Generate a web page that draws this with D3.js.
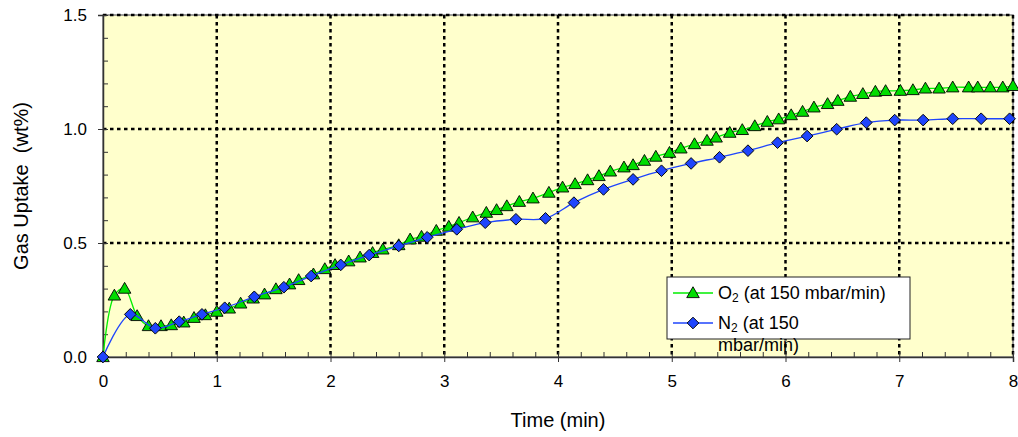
<!DOCTYPE html>
<html>
<head>
<meta charset="utf-8">
<script src="https://cdn.jsdelivr.net/npm/d3@7"></script>
<style>
    body { margin: 0; background: #fff; }
    text { font-family: "Liberation Sans", Arial, sans-serif; fill: #000; white-space: pre; }
</style>
</head>
<body>
<div id="chart"></div>
<script>
// O2 series (time in min, uptake in wt%)
const o2Time = [0, 0.10, 0.19, 0.30, 0.40, 0.51, 0.60, 0.71, 0.80, 0.90, 1.00, 1.11, 1.21, 1.32, 1.42, 1.52, 1.64, 1.72, 1.85, 1.95,
    2.04, 2.16, 2.26, 2.37, 2.46, 2.60, 2.70, 2.80, 2.93, 3.04, 3.13, 3.25, 3.37, 3.46, 3.55, 3.66, 3.78, 3.92,
    4.04, 4.15, 4.26, 4.36, 4.46, 4.58, 4.66, 4.76, 4.86, 4.98, 5.08, 5.20, 5.31, 5.39, 5.51, 5.62, 5.73, 5.84, 5.94,
    6.05, 6.15, 6.25, 6.37, 6.46, 6.57, 6.68, 6.79, 6.88, 7.01, 7.12, 7.23, 7.35, 7.47, 7.61, 7.69, 7.80, 7.91, 8.00];
const o2Value = [0, 0.27, 0.30, 0.18, 0.136, 0.136, 0.14, 0.152, 0.172, 0.184, 0.199, 0.213, 0.235, 0.257, 0.275, 0.298, 0.319, 0.338, 0.363, 0.386,
    0.404, 0.42, 0.437, 0.457, 0.472, 0.491, 0.516, 0.528, 0.554, 0.572, 0.589, 0.613, 0.633, 0.645, 0.662, 0.681, 0.696, 0.721,
    0.744, 0.759, 0.776, 0.794, 0.814, 0.832, 0.842, 0.861, 0.879, 0.896, 0.915, 0.934, 0.949, 0.963, 0.984, 0.996, 1.013, 1.032, 1.043,
    1.061, 1.076, 1.095, 1.11, 1.124, 1.142, 1.154, 1.164, 1.167, 1.168, 1.171, 1.178, 1.178, 1.183, 1.183, 1.183, 1.183, 1.183, 1.189];

// N2 series
const n2Time = [0, 0.24, 0.46, 0.67, 0.87, 1.07, 1.33, 1.59, 1.83, 2.09, 2.34, 2.60, 2.85, 3.11, 3.36, 3.63, 3.89,
    4.14, 4.40, 4.66, 4.91, 5.17, 5.42, 5.67, 5.93, 6.19, 6.45, 6.71, 6.96, 7.21, 7.47, 7.72, 7.97];
const n2Value = [0, 0.187, 0.126, 0.155, 0.187, 0.216, 0.264, 0.306, 0.355, 0.404, 0.447, 0.487, 0.525, 0.56, 0.589, 0.604, 0.608,
    0.677, 0.735, 0.779, 0.817, 0.849, 0.876, 0.905, 0.94, 0.969, 0.999, 1.028, 1.039, 1.039, 1.045, 1.045, 1.045];

const xTicks = [0, 1, 2, 3, 4, 5, 6, 7, 8];
const yTicks = [0, 0.5, 1.0, 1.5];
const seriesNames = ["O", "N"];

document.addEventListener("DOMContentLoaded", function() {
    const width = 1018, height = 437;
    const margin = { top: 15, right: 5, bottom: 80, left: 103 };
    const innerW = 1013 - margin.left;
    const innerH = 357 - margin.top;

    const svg = d3.select("#chart").append("svg")
        .attr("width", width)
        .attr("height", height);

    const g = svg.append("g")
        .attr("transform", `translate(${margin.left},${margin.top})`);

    const x = d3.scaleLinear().domain([0, 8]).range([0, innerW]);
    const y = d3.scaleLinear().domain([0, 1.5]).range([innerH, 0]);

    // plot area
    g.append("rect")
        .attr("width", innerW)
        .attr("height", innerH)
        .attr("fill", "#ffffcc")
        .attr("stroke", "#808080")
        .attr("stroke-width", 1.5);

    // dotted grid
    g.append("g").selectAll("line")
        .data(xTicks.filter(d => d > 0))
        .enter().append("line")
        .attr("x1", d => x(d)).attr("x2", d => x(d))
        .attr("y1", 0).attr("y2", innerH)
        .attr("stroke", "#000")
        .attr("stroke-width", 2.5)
        .attr("stroke-dasharray", "3.5,3.5");

    g.append("g").selectAll("line")
        .data(yTicks.filter(d => d > 0))
        .enter().append("line")
        .attr("x1", 0).attr("x2", innerW)
        .attr("y1", d => y(d)).attr("y2", d => y(d))
        .attr("stroke", "#000")
        .attr("stroke-width", 2.5)
        .attr("stroke-dasharray", "3.5,3.5");

    // axes: major ticks outward, minor ticks inward
    const xMinor = d3.range(0, 8.01, 0.2);
    const yMinor = d3.range(0, 1.501, 0.1);

    const xAxis = g.append("g").attr("transform", `translate(0,${innerH})`);
    xAxis.append("g")
        .call(d3.axisBottom(x).tickValues(xMinor).tickSize(-5).tickFormat(""))
        .call(a => a.select(".domain").remove())
        .selectAll("line").attr("stroke", "#333");
    xAxis.append("g")
        .call(d3.axisBottom(x).tickValues(xTicks).tickSize(5).tickPadding(13).tickFormat(d3.format("d")))
        .call(a => a.select(".domain").attr("stroke", "#333").attr("stroke-width", 1.5))
        .call(a => a.selectAll("line").attr("stroke", "#333"))
        .selectAll("text").attr("font-size", "17px");

    const yAxis = g.append("g");
    yAxis.append("g")
        .call(d3.axisLeft(y).tickValues(yMinor).tickSize(-5).tickFormat(""))
        .call(a => a.select(".domain").remove())
        .selectAll("line").attr("stroke", "#333");
    yAxis.append("g")
        .call(d3.axisLeft(y).tickValues(yTicks).tickSize(5).tickPadding(11).tickFormat(d3.format(".1f")))
        .call(a => a.select(".domain").attr("stroke", "#333").attr("stroke-width", 1.5))
        .call(a => a.selectAll("line").attr("stroke", "#333"))
        .selectAll("text").attr("font-size", "17px");

    // axis titles
    svg.append("text")
        .attr("x", (margin.left + 1013) / 2)
        .attr("y", 427)
        .attr("text-anchor", "middle")
        .attr("font-size", "20px")
        .text("Time (min)");

    svg.append("text")
        .attr("transform", `translate(28,${(15 + 357) / 2}) rotate(-90)`)
        .attr("text-anchor", "middle")
        .attr("font-size", "20px")
        .text("Gas Uptake  (wt%)");

    // series
    const o2 = o2Time.map((t, i) => ({ t: t, v: o2Value[i] }));
    const n2 = n2Time.map((t, i) => ({ t: t, v: n2Value[i] }));

    const line = d3.line()
        .x(d => x(d.t))
        .y(d => y(d.v))
        .curve(d3.curveCatmullRom);

    const triangle = d3.symbol().type(d3.symbolTriangle).size(68);
    const diamond = d3.symbol().type(d3.symbolSquare).size(68);

    g.append("path")
        .datum(o2)
        .attr("fill", "none")
        .attr("stroke", "#00ee00")
        .attr("stroke-width", 1.3)
        .attr("d", line);

    g.append("g").selectAll("path")
        .data(o2)
        .enter().append("path")
        .attr("d", triangle)
        .attr("transform", d => `translate(${x(d.t)},${y(d.v) + 1})`)
        .attr("fill", "#00dd00")
        .attr("stroke", "#000")
        .attr("stroke-width", 0.9);

    g.append("path")
        .datum(n2)
        .attr("fill", "none")
        .attr("stroke", "#1f45fc")
        .attr("stroke-width", 1.3)
        .attr("d", line);

    g.append("g").selectAll("path")
        .data(n2)
        .enter().append("path")
        .attr("d", diamond)
        .attr("transform", d => `translate(${x(d.t)},${y(d.v)}) rotate(45)`)
        .attr("fill", "#1f45fc")
        .attr("stroke", "#000")
        .attr("stroke-width", 0.9);

    // legend
    const legend = svg.append("g");
    legend.append("rect")
        .attr("x", 667).attr("y", 277)
        .attr("width", 243).attr("height", 62)
        .attr("fill", "#fff")
        .attr("stroke", "#222")
        .attr("stroke-width", 1);

    const rows = [
        { name: seriesNames[0], color: "#00ee00", fill: "#00dd00", sym: triangle, y: 293, rot: 0 },
        { name: seriesNames[1], color: "#1f45fc", fill: "#1f45fc", sym: diamond, y: 323, rot: 45 }
    ];

    rows.forEach(r => {
        legend.append("line")
            .attr("x1", 673).attr("x2", 713)
            .attr("y1", r.y).attr("y2", r.y)
            .attr("stroke", r.color)
            .attr("stroke-width", 1.3);
        legend.append("path")
            .attr("d", r.sym)
            .attr("transform", `translate(693,${r.y + (r.rot ? 0 : 1)}) rotate(${r.rot})`)
            .attr("fill", r.fill)
            .attr("stroke", "#000")
            .attr("stroke-width", 0.9);
    });

    const t1 = legend.append("text").attr("x", 718).attr("y", 299).attr("font-size", "18px");
    t1.append("tspan").text(rows[0].name);
    t1.append("tspan").attr("font-size", "12px").attr("dy", 3).text("2");
    t1.append("tspan").attr("dy", -3).text(" (at 150 mbar/min)");

    const t2 = legend.append("text").attr("x", 718).attr("y", 329).attr("font-size", "18px");
    t2.append("tspan").text(rows[1].name);
    t2.append("tspan").attr("font-size", "12px").attr("dy", 3).text("2");
    t2.append("tspan").attr("dy", -3).text(" (at 150");

    legend.append("text")
        .attr("x", 718).attr("y", 351)
        .attr("font-size", "18px")
        .text("mbar/min)");
});
</script>
</body>
</html>
